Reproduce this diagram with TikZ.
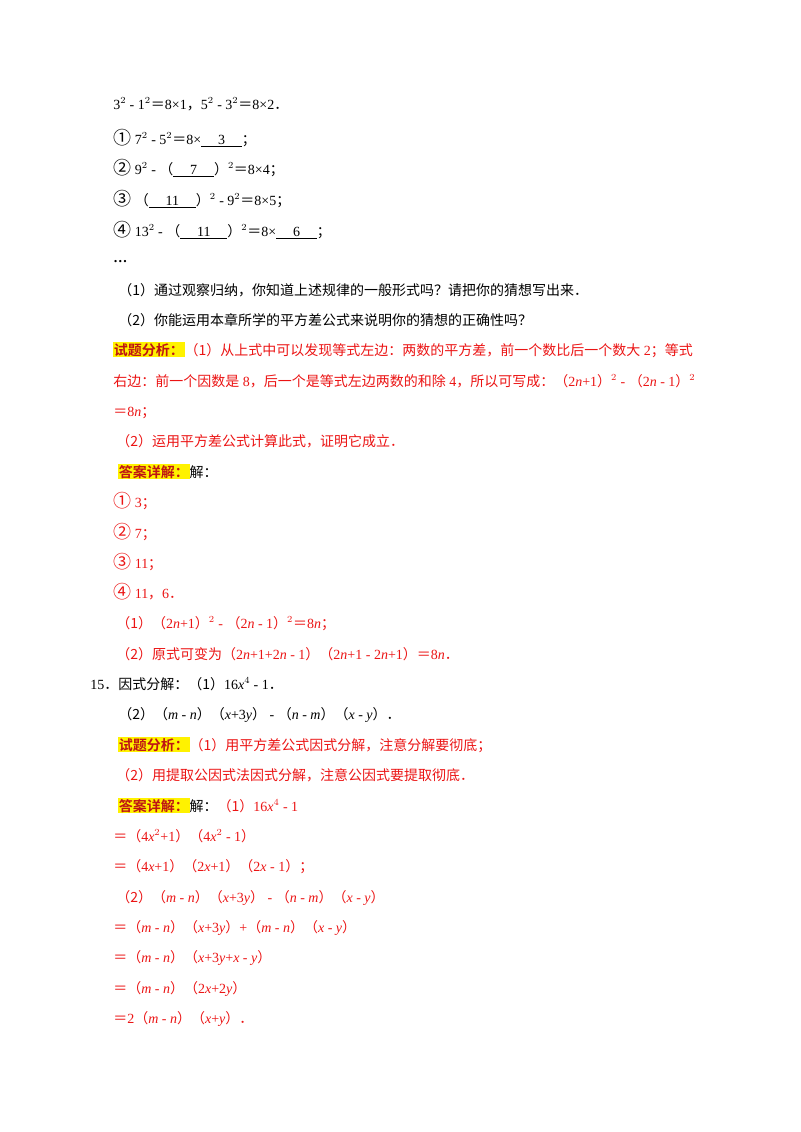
\documentclass[tikz,border=0pt]{standalone}
\usepackage{fontspec}
\setmainfont{Liberation Serif}
\newfontfamily\cjk{Noto Sans CJK SC}
\newfontfamily\cjkb{Noto Sans CJK SC Bold}
\definecolor{ans}{RGB}{235,20,20}
\definecolor{lab}{RGB}{190,20,20}
\newcommand{\z}[1]{{\cjk #1}}
\newcommand{\cn}[1]{{\cjk\fontsize{13.5}{14}\selectfont #1}}
\newcommand{\lbl}[1]{{\setlength{\fboxsep}{0.5pt}\colorbox{yellow}{\textcolor{lab}{\cjkb #1}}}}
\newcommand{\bl}[1]{\underline{\hspace{1.2em}#1\hspace{1.2em}}}
\begin{document}
\begin{tikzpicture}[x=0.75pt,y=-0.75pt,
  t/.style={anchor=base west,inner sep=0pt,font=\fontsize{10.5}{12}\selectfont},
  r/.style={t,text=ans}]
\useasboundingbox (0,0) rectangle (800,1132);
\node[t] (l1) at (113,109) {3$^2$ - 1$^2$\z{＝}8×1\z{，}5$^2$ - 3$^2$\z{＝}8×2\z{．}};
\node[t] (l2) at (113,144) {\cn{①} 7$^2$ - 5$^2$\z{＝}8×\bl{3}\z{；}};
\node[t] (l3) at (113,174) {\cn{②} 9$^2$ - \z{（}\bl{7}\z{）}$^2$\z{＝}8×4\z{；}};
\node[t] (l4) at (113,205) {\cn{③} \z{（}\bl{11}\z{）}$^2$ - 9$^2$\z{＝}8×5\z{；}};
\node[t] (l5) at (113,236) {\cn{④} 13$^2$ - \z{（}\bl{11}\z{）}$^2$\z{＝}8×\bl{6}\z{；}};
\node[t] (l6) at (113,262) {\textbf{…}};
\node[t] (l7) at (118,295) {\z{（1）通过观察归纳，你知道上述规律的一般形式吗？请把你的猜想写出来．}};
\node[t] (l8) at (118,325) {\z{（2）你能运用本章所学的平方差公式来说明你的猜想的正确性吗？}};
\node[r] (a1) at (113,355) {\lbl{试题分析：}\z{（1）从上式中可以发现等式左边：两数的平方差，前一个数比后一个数大} 2\z{；等式}};
\node[r] (a2) at (113,386) {\z{右边：前一个因数是} 8\z{，后一个是等式左边两数的和除} 4\z{，所以可写成：（}2\textit{n}+1\z{）}$^2$ - \z{（}2\textit{n} - 1\z{）}$^2$};
\node[r] (a3) at (113,416) {\z{＝}8\textit{n}\z{；}};
\node[r] (a4) at (116,446) {\z{（2）运用平方差公式计算此式，证明它成立．}};
\node[t] (a5) at (118,477) {\lbl{答案详解：}\z{解：}};
\node[r] (a6) at (113,507) {\cn{①} 3\z{；}};
\node[r] (a7) at (113,538) {\cn{②} 7\z{；}};
\node[r] (a8) at (113,568) {\cn{③} 11\z{；}};
\node[r] (a9) at (113,598) {\cn{④} 11\z{，}6\z{．}};
\node[r] (a10) at (116,628) {\z{（1）（}2\textit{n}+1\z{）}$^2$ - \z{（}2\textit{n} - 1\z{）}$^2$\z{＝}8\textit{n}\z{；}};
\node[r] (a11) at (116,659) {\z{（2）原式可变为（}2\textit{n}+1+2\textit{n} - 1\z{）（}2\textit{n}+1 - 2\textit{n}+1\z{）＝}8\textit{n}\z{．}};
\node[t] (q1) at (90,689) {15\z{．因式分解：（1）}16\textit{x}$^4$ - 1\z{．}};
\node[t] (q2) at (118,719) {\z{（2）（}\textit{m} - \textit{n}\z{）（}\textit{x}+3\textit{y}\z{）} - \z{（}\textit{n} - \textit{m}\z{）（}\textit{x} - \textit{y}\z{）．}};
\node[r] (b1) at (118,750) {\lbl{试题分析：}\z{（1）用平方差公式因式分解，注意分解要彻底；}};
\node[r] (b2) at (116,780) {\z{（2）用提取公因式法因式分解，注意公因式要提取彻底．}};
\node[r] (b3) at (118,811) {\lbl{答案详解：}\textcolor{black}{\z{解：}}\z{（1）}16\textit{x}$^4$ - 1};
\node[r] (b4) at (113,841) {\z{＝（}4\textit{x}$^2$+1\z{）（}4\textit{x}$^2$ - 1\z{）}};
\node[r] (b5) at (113,871) {\z{＝（}4\textit{x}+1\z{）（}2\textit{x}+1\z{）（}2\textit{x} - 1\z{）；}};
\node[r] (b6) at (116,902) {\z{（2）（}\textit{m} - \textit{n}\z{）（}\textit{x}+3\textit{y}\z{）} - \z{（}\textit{n} - \textit{m}\z{）（}\textit{x} - \textit{y}\z{）}};
\node[r] (b7) at (113,932) {\z{＝（}\textit{m} - \textit{n}\z{）（}\textit{x}+3\textit{y}\z{）}+\z{（}\textit{m} - \textit{n}\z{）（}\textit{x} - \textit{y}\z{）}};
\node[r] (b8) at (113,962) {\z{＝（}\textit{m} - \textit{n}\z{）（}\textit{x}+3\textit{y}+\textit{x} - \textit{y}\z{）}};
\node[r] (b9) at (113,993) {\z{＝（}\textit{m} - \textit{n}\z{）（}2\textit{x}+2\textit{y}\z{）}};
\node[r] (b10) at (113,1023) {\z{＝}2\z{（}\textit{m} - \textit{n}\z{）（}\textit{x}+\textit{y}\z{）．}};
\end{tikzpicture}
\end{document}
